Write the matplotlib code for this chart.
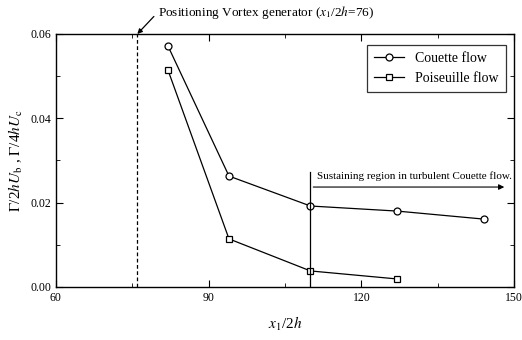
import matplotlib

matplotlib.use("Agg")
import matplotlib.pyplot as plt
from matplotlib.ticker import MultipleLocator

plt.rcParams["font.family"] = ["Liberation Serif", "DejaVu Serif"]
plt.rcParams["mathtext.fontset"] = "stix"

couette_x = [82, 94, 110, 127, 144]
couette_y = [0.0572, 0.0263, 0.0192, 0.0180, 0.0161]
poiseuille_x = [82, 94, 110, 127]
poiseuille_y = [0.0515, 0.0114, 0.0038, 0.0019]
generator_x = 76
sustain_x = 110

fig = plt.figure(figsize=(5.22, 3.4), dpi=100)
ax = fig.add_axes([0.107, 0.156, 0.878, 0.744])

ax.plot(couette_x, couette_y, "-o", color="black", lw=0.9, ms=5,
        mfc="white", mec="black", mew=0.9, label="Couette flow")
ax.plot(poiseuille_x, poiseuille_y, "-s", color="black", lw=0.9, ms=5,
        mfc="white", mec="black", mew=0.9, label="Poiseuille flow")

ax.axvline(generator_x, color="black", ls=(0, (3, 2)), lw=0.9)
ax.plot([sustain_x, sustain_x], [0, 0.0273], color="black", lw=0.9)
ax.annotate("", xy=(148.6, 0.0237), xytext=(sustain_x, 0.0237),
            arrowprops=dict(arrowstyle="-|>", color="black", lw=0.8,
                            mutation_scale=8))
ax.text(111.3, 0.0262, "Sustaining region in turbulent Couette flow.",
        fontsize=8, va="center", ha="left")

ax.annotate("Positioning Vortex generator ($x_1$/2$h$=76)",
            xy=(generator_x, 0.06), xytext=(0.222, 1.085),
            textcoords="axes fraction", fontsize=9.5, va="center", ha="left",
            annotation_clip=False,
            arrowprops=dict(arrowstyle="-|>", color="black", lw=0.9,
                            mutation_scale=7, shrinkA=1, shrinkB=0,
                            relpos=(0, 0.5)))

ax.set_xlim(60, 150)
ax.set_ylim(0, 0.06)
ax.xaxis.set_major_locator(MultipleLocator(30))
ax.xaxis.set_minor_locator(MultipleLocator(15))
ax.yaxis.set_major_locator(MultipleLocator(0.02))
ax.yaxis.set_minor_locator(MultipleLocator(0.01))
ax.yaxis.set_major_formatter(plt.FuncFormatter(lambda v, p: f"{v:.2f}"))
ax.tick_params(which="both", direction="in", top=True, right=True, labelsize=8.5)
ax.tick_params(which="major", length=5)
ax.tick_params(which="minor", length=3)
for spine in ax.spines.values():
    spine.set_linewidth(1.0)

ax.set_xlabel("$x_1$/2$h$", fontsize=11, labelpad=8)
ax.set_ylabel(r"$\Gamma$/2$hU_\mathrm{b}$ , $\Gamma$/4$hU_\mathrm{c}$", fontsize=11)

leg = ax.legend(loc="upper right", fontsize=10, frameon=True, fancybox=False,
                edgecolor="black", handlelength=2.2, borderpad=0.5,
                bbox_to_anchor=(0.997, 0.985))
leg.get_frame().set_linewidth(0.9)

fig.savefig("out.png", dpi=100)
